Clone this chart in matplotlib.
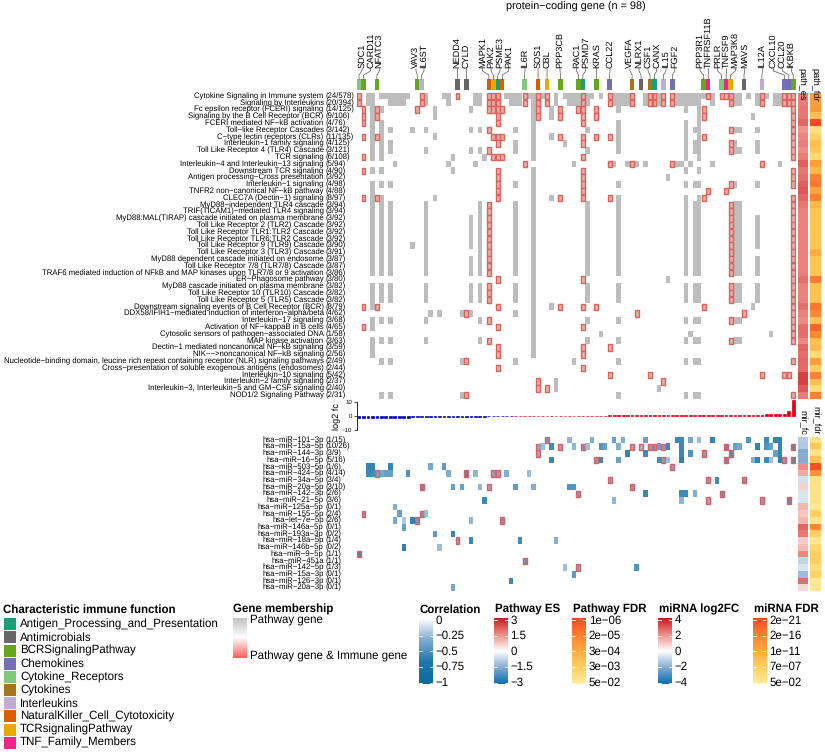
import numpy as np
import matplotlib
matplotlib.use("Agg")
import matplotlib.pyplot as plt
from matplotlib.colors import LinearSegmentedColormap, Normalize, to_rgb
from matplotlib.patches import Rectangle

plt.rcParams["font.family"] = ["Liberation Sans", "DejaVu Sans"]
plt.rcParams["text.hinting"] = "none"

W, H = 825, 754

# ---- pathway rows ----
pathway_names = [
    "Cytokine Signaling in Immune system", "Signaling by Interleukins",
    "Fc epsilon receptor (FCERI) signaling", "Signaling by the B Cell Receptor (BCR)",
    "FCERI mediated NF−kB activation", "Toll−like Receptor Cascades",
    "C−type lectin receptors (CLRs)", "Interleukin−1 family signaling",
    "Toll Like Receptor 4 (TLR4) Cascade", "TCR signaling",
    "Interleukin−4 and Interleukin−13 signaling", "Downstream TCR signaling",
    "Antigen processing−Cross presentation", "Interleukin−1 signaling",
    "TNFR2 non−canonical NF−kB pathway", "CLEC7A (Dectin−1) signaling",
    "MyD88−independent TLR4 cascade", "TRIF(TICAM1)−mediated TLR4 signaling",
    "MyD88:MAL(TIRAP) cascade initiated on plasma membrane", "Toll Like Receptor 2 (TLR2) Cascade",
    "Toll Like Receptor TLR1:TLR2 Cascade", "Toll Like Receptor TLR6:TLR2 Cascade",
    "Toll Like Receptor 9 (TLR9) Cascade", "Toll Like Receptor 3 (TLR3) Cascade",
    "MyD88 dependent cascade initiated on endosome", "Toll Like Receptor 7/8 (TLR7/8) Cascade",
    "TRAF6 mediated induction of NFkB and MAP kinases upon TLR7/8 or 9 activation", "ER−Phagosome pathway",
    "MyD88 cascade initiated on plasma membrane", "Toll Like Receptor 10 (TLR10) Cascade",
    "Toll Like Receptor 5 (TLR5) Cascade", "Downstream signaling events of B Cell Receptor (BCR)",
    "DDX58/IFIH1−mediated induction of interferon−alpha/beta", "Interleukin−17 signaling",
    "Activation of NF−kappaB in B cells", "Cytosolic sensors of pathogen−associated DNA",
    "MAP kinase activation", "Dectin−1 mediated noncanonical NF−kB signaling",
    "NIK−−>noncanonical NF−kB signaling",
    "Nucleotide−binding domain, leucine rich repeat containing receptor (NLR) signaling pathways",
    "Cross−presentation of soluble exogenous antigens (endosomes)", "Interleukin−10 signaling",
    "Interleukin−2 family signaling", "Interleukin−3, Interleukin−5 and GM−CSF signaling",
    "NOD1/2 Signaling Pathway",
]
pathway_counts = [
    "24/578", "20/394", "14/125", "9/106", "4/76", "3/142", "11/135", "4/125", "3/121",
    "6/108", "5/94", "4/90", "3/92", "4/98", "4/88", "8/97", "3/94", "3/94", "3/92", "3/92",
    "3/92", "3/92", "3/90", "3/91", "3/87", "3/87", "3/86", "3/80", "3/82", "3/82", "3/82",
    "8/79", "4/62", "3/68", "4/65", "1/58", "3/63", "3/59", "2/56", "2/49", "2/44", "5/42",
    "2/37", "2/40", "2/31",
]

# gene columns per pathway, gray = pathway gene only, red = also an immune gene
tlr_gray = "3 5 7 15 25 27 35 39 51 58 73 75-76 84-85 89"
pathway_gray = [
    "2-3 5-11 15 19-20 26-27 33-36 38-39 41 44 46-49 51-52 54 57-60 64 67 71-77 79 84-85 87 89 91 93-94",
    "2-3 7-10 15 20 26-27 34-36 39 44 47-49 51 57-60 64 67 71-76 79 84-85 89 93-94",
    "3 5 17 25 39 43 58 73 76",
    "3 17 39 43 76 88",
    "3 5 39 58 73 76",
    "3 5 7 12 15 25 27 35 39 51 58 73 75-76 84-85 89",
    "3 5 17 39 43 58 73 76",
    "3 5 7 35 39 46 58 73 75-76 84 89",
    "3 5 7 15 25 27 35 39 51 58 73 75-76 84-85 89",
    "3 5 21 28 39 73 76",
    "8 20 26 48 57 60 62 64 71-72 74 79 94",
    "3 5 21 39 73 76",
    "39 69",
    "3 5 7 35 39 58 73 75-76 84 89",
    "3 39",
    "3 5 17 39 43 58 73 76",
    "3 5 7 15 27 35 39 51 58 73 75-76 84-85",
    "3 5 7 15 27 35 39 51 58 73 75-76 84-85",
    tlr_gray, tlr_gray, tlr_gray, tlr_gray,
    tlr_gray + " 12",
    "3 5 7 15 27 35 39 51 58 73 75-76 84-85",
    tlr_gray, tlr_gray, tlr_gray,
    "39 69",
    tlr_gray, tlr_gray, tlr_gray,
    "3 39 43 88",
    "16 18 23 25 35 39",
    "3 5 7 15 27 39 51 58 73 75-76 84-85",
    "3 39",
    "39 54 74 92",
    "3 5 7 15 27 39 51 58 73 75-76 84-85",
    "3 39",
    "3 39",
    "5 7 23 35 48 58 73 75-76",
    "",
    "",
    "44",
    "44 67",
    "5 7 23 58 73 75-76",
]
tlr_red = "29 83 97"
pathway_red = [
    "0 14 22 29 30 31 37 40 42 50 56 61 65 66 68 70 78 81 82 83 90 95 96 97",
    "0 14 29 30 31 37 40 42 50 56 61 65 66 68 70 83 90 95 96 97",
    "1 4 13 29 30 31 32 40 45 49 50 53 77 97",
    "1 4 31 40 45 50 53 77 97",
    "1 31 50 97",
    tlr_red,
    "1 4 30 31 32 45 50 53 56 77 97",
    "31 50 83 97",
    tlr_red,
    "1 30 31 32 50 97",
    "37 56 61 70 90",
    "1 31 50 97",
    "31 50 97",
    "31 50 83 97",
    "31 50 78 82",
    "1 4 31 45 50 56 77 97",
    tlr_red, tlr_red, tlr_red, tlr_red, tlr_red, tlr_red, tlr_red, tlr_red,
    tlr_red, tlr_red, tlr_red,
    "31 50 97",
    tlr_red, tlr_red, tlr_red,
    "1 4 31 45 50 53 77 97",
    "24 62 86 97",
    tlr_red,
    "1 31 50 97",
    "97",
    tlr_red,
    "31 50 56",
    "31 50",
    "24 97",
    "31 50",
    "56 65 90 95 96",
    "40 68",
    "40 42",
    "24 97",
]
path_es = [1.7, 1.7, 1.8, 1.8, 2.0, 1.45, 1.6, 1.7, 1.5, 1.7, 2.1, 1.8, 1.9, 2.1, 2.2, 2.0,
           1.8, 1.65, 1.65, 1.65, 1.65, 1.65, 1.65, 1.65, 1.65, 1.65, 1.65, 1.9, 1.65, 1.65,
           1.65, 1.9, 1.65, 1.55, 1.9, 1.9, 1.6, 2.0, 1.9, 2.0, 1.95, 2.5, 2.5, 2.2, 1.75]
path_fdr_log = [4.0, 4.0, 4.2, 3.0, 6.0, 1.8, 2.3, 3.0, 2.7, 2.1, 4.0, 3.2, 4.8, 5.0, 3.8, 4.8,
                3.2, 2.8, 2.8, 2.8, 2.8, 2.8, 2.8, 3.6, 2.8, 2.8, 2.8, 4.9, 2.9, 2.9, 2.9, 5.0,
                4.6, 2.9, 5.4, 4.6, 2.9, 3.1, 2.0, 4.0, 2.6, 4.8, 3.0, 2.0, 4.8]

# ---- genes ----
gene_labels = ["SDC1", "CARD11", "NFATC3", "VAV3", "IL6ST", "NEDD4", "CYLD", "MAPK1", "PAK2", "PSME3",
               "PAK1", "IL6R", "SOS1", "CBL", "PPP3CB", "RAC1", "PSMD7", "KRAS", "CCL22", "VEGFA",
               "NLRX1", "CSF1", "CANX", "IL15", "FGF2", "PPP3R1", "TNFRSF11B", "PRLR", "TNFSF9",
               "MAP3K8", "MAVS", "IL12A", "CXCL10", "CCL20", "IKBKB"]
gene_cols = [0, 1, 4, 13, 14, 22, 24, 29, 30, 31, 32, 37, 40, 42, 45, 49, 50, 53, 56, 61, 63, 65, 66,
             68, 70, 77, 78, 81, 82, 83, 86, 90, 95, 96, 97]
gene_funcs = [4, 2, 2, 2, 6, 1, 1, 7, 8, 0, 7, 4, 7, 8, 2, 2, 0, 2, 3, 5, 1, 5, 0, 6, 3, 2, 9, 4, 9,
              8, 1, 6, 3, 3, 2]
gene_label_x = [66, 92, 118, 228, 252, 352, 379, 428, 453, 480, 506, 555, 594, 621, 660, 710, 737,
                770, 810, 870, 897, 924, 950, 978, 1004, 1080, 1106, 1133, 1160, 1186, 1214, 1267,
                1300, 1327, 1354]

func_names = ["Antigen_Processing_and_Presentation", "Antimicrobials", "BCRSignalingPathway", "Chemokines",
              "Cytokine_Receptors", "Cytokines", "Interleukins", "NaturalKiller_Cell_Cytotoxicity",
              "TCRsignalingPathway", "TNF_Family_Members"]
func_colors = ["#1B9E77", "#666666", "#66A61E", "#7570B3", "#7FC97F", "#A6761D", "#BEAED4", "#D95F02",
               "#E6AB02", "#E7298A"]

log2_fc = [-1.5, -1.5, -1.5, -1.4, -1.4, -1.4, -1.3, -1.3, -1.2, -1.2, -1.1, -1.1, -1.0, -1.0, -0.9,
           -0.9, -0.9, -0.8, -0.8, -0.7, -0.7, -0.7, -0.6, -0.6, -0.5, -0.5, -0.5, -0.4, -0.4, -0.3,
           -0.3, -0.3, -0.2, -0.2, -0.1, 0.1, 0.1, 0.1, 0.1, 0.2, 0.2, 0.2, 0.2, 0.2, 0.2, 0.2, 0.3,
           0.3, 0.3, 0.3, 0.3, 0.3, 0.3, 0.3, 0.3, 0.3, 0.4, 0.4, 0.4, 0.4, 0.4, 0.4, 0.4, 0.4, 0.4,
           0.4, 0.5, 0.5, 0.5, 0.5, 0.5, 0.5, 0.5, 0.5, 0.6, 0.6, 0.6, 0.6, 0.6, 0.6, 0.7, 0.7, 0.7,
           0.7, 0.8, 0.8, 0.8, 0.9, 0.9, 1.0, 1.0, 1.1, 1.1, 1.2, 1.4, 1.7, 3.6, 11.3]

# ---- miRNA rows ----
mirna_names = ["hsa−miR−101−3p", "hsa−miR−15a−5p", "hsa−miR−144−3p", "hsa−miR−16−5p", "hsa−miR−503−5p",
               "hsa−miR−424−5p", "hsa−miR−34a−5p", "hsa−miR−20a−5p", "hsa−miR−142−3p", "hsa−miR−21−5p",
               "hsa−miR−125a−5p", "hsa−miR−155−5p", "hsa−let−7e−5p", "hsa−miR−146a−5p", "hsa−miR−193a−3p",
               "hsa−miR−18a−5p", "hsa−miR−146b−5p", "hsa−miR−9−5p", "hsa−miR−451a", "hsa−miR−142−5p",
               "hsa−miR−15a−3p", "hsa−miR−126−3p", "hsa−miR−20a−3p"]
mirna_counts = ["1/15", "10/26", "3/9", "5/16", "1/6", "4/14", "3/4", "3/10", "2/6", "3/6", "0/1", "2/4",
                "2/6", "0/1", "0/2", "1/4", "0/2", "1/1", "1/1", "1/3", "0/1", "0/1", "0/1"]
# (gene column, correlation) per miRNA
mirna_hits = [
    [(42, -.5), (47, -.35), (52, -.4), (57, -.5), (59, -.4), (64, -.5), (71, -.7), (72, -.7), (74, -.45),
     (76, -.3), (79, -.9), (87, -.6), (91, -.7), (93, -.9), (94, -.9)],
    [(40, -.3), (41, -.3), (43, -.7), (45, -.3), (48, -.35), (50, -.5), (51, -.3), (54, -.6), (55, -.5),
     (58, -.4), (61, -.3), (63, -.2), (65, -.4), (66, -.4), (67, -.5), (68, -.4), (69, -.7), (72, -.8),
     (82, -.6), (84, -.5), (85, -.45), (89, -.9), (91, -.6), (92, -.5), (94, -.9), (97, -.8)],
    [(40, -.3), (60, -.9), (64, -.7), (72, -.8), (74, -.6), (77, -.4), (83, -.8), (93, -.5), (94, -.8)],
    [(43, -.8), (53, -.4), (54, -.7), (58, -.5), (67, -.7), (68, -.4), (69, -.3), (72, -.95), (82, -.6),
     (88, -.4), (89, -.9), (91, -.7), (92, -.3), (94, -1), (95, -.4), (97, -.9)],
    [(2, -.9), (3, -.9), (7, -.85), (16, -.45), (19, -.55), (70, -.4)],
    [(2, -.8), (3, -.7), (4, -.4), (5, -.45), (6, -.5), (7, -.5), (11, -.6), (20, -.4), (24, -.8), (26, -.35),
     (30, -.3), (31, -.3), (33, -.4), (38, -.3)],
    [(56, -.4), (78, -.4), (80, -.7), (86, -.5)],
    [(14, -.6), (21, -.5), (23, -.5), (27, -.35), (29, -.3), (35, -.55), (39, -.4), (47, -.6), (48, -.6), (61, -.45)],
    [(49, -.4), (64, -.8), (72, -.7), (73, -.7), (75, -.4), (81, -.55)],
    [(28, -.7), (57, -.35), (72, -.35), (78, -.3), (90, -.4), (96, -.6)],
    [(8, -.4)],
    [(1, -.5), (9, -.5), (14, -.5), (15, -.3)],
    [(8, -.45), (10, -.25), (12, -.9), (13, -.5), (25, -.35), (32, -.5)],
    [(10, -.5)],
    [(17, -.55), (21, -.85)],
    [(22, -.4), (25, -.8), (36, -.7), (44, -.4)],
    [(10, -.95), (18, -.3)],
    [(0, -.9)],
    [(37, -.6)],
    [(46, -.3), (49, -.4), (62, -.6)],
    [(48, -.55)],
    [(34, -.7)],
    [(21, -.45)],
]
mirna_red = [[42], [40, 45, 50, 61, 63, 65, 66, 68, 82, 97], [40, 77, 83], [53, 68, 82, 95, 97], [70],
             [4, 24, 30, 31], [56, 78, 86], [14, 29, 61], [49, 81], [78, 90, 96], [], [1, 14], [13, 32], [],
             [], [22], [], [0], [37], [49], [], [], []]
mir_fc = [-1.2, -1.3, -2.0, -2.0, 2.0, 1.5, -0.7, 0.8, -0.6, -0.6, 1.3, 1.0, 1.3, 2.7, 2.4, 0.9, 1.2, 2.1,
          -1.0, -0.6, -1.6, 2.6, 0.7]
mir_fdr_log = [3, 7, 3, 8, 20, 14, 3, 3, 3, 3, 2, 6, 2.5, 15, 6, 2.5, 5, 6, 6, 4, 5.5, 2, 2.5]

# ---- legends ----
corr_ticks = ["0", "−0.25", "−0.5", "−0.75", "−1"]
es_ticks = ["3", "1.5", "0", "−1.5", "−3"]
path_fdr_ticks = ["1e−06", "2e−05", "3e−04", "3e−03", "5e−02"]
mir_fc_ticks = ["4", "2", "0", "−2", "−4"]
mir_fdr_ticks = ["2e−21", "2e−16", "1e−11", "7e−07", "5e−02"]

LABEL_SIZE = 5.6
GENE_SIZE = 6.6
LEGEND_SIZE = 8.3

# colour maps
cm_corr = LinearSegmentedColormap.from_list("corr", ["#ffffff", "#7fabd0", "#1f78ad", "#0b6a9c"])
cm_div = LinearSegmentedColormap.from_list("div", ["#0a6fb0", "#86acd2", "#ffffff", "#ee8f86", "#cb1a20"])
cm_fdr = LinearSegmentedColormap.from_list("fdr", ["#ffeda0", "#fed060", "#feab40", "#fd8030", "#f24a22"])
cm_member = LinearSegmentedColormap.from_list("member", ["#bebebe", "#ffffff", "#f8605c"])


def parse_cols(text):
    cols = []
    for part in text.split():
        if "-" in part:
            a, b = part.split("-")
            cols.extend(range(int(a), int(b) + 1))
        else:
            cols.append(int(part))
    return cols


def ax_px(x0, y0, x1, y1):
    return fig.add_axes([x0 / W, 1 - y1 / H, (x1 - x0) / W, (y1 - y0) / H])


def side_column(x0, x1, y0, y1, values, cmap, vmin, vmax):
    ax = ax_px(x0, y0, x1, y1)
    ax.imshow(np.array(values)[:, None], cmap=cmap, vmin=vmin, vmax=vmax, aspect="auto", interpolation="nearest")
    ax.axis("off")


def colorbar(x0, title, ticks, cmap):
    ov.text(x0 + 1, 609.3, title, fontsize=LEGEND_SIZE, fontweight="bold", va="center", ha="left")
    ax = ax_px(x0, 618.3, x0 + 13.7, 684.3)
    ax.imshow(np.linspace(1, 0, 200)[:, None], cmap=cmap, vmin=0, vmax=1, aspect="auto", extent=(0, 1, 684.3, 618.3))
    ax.set_xlim(0, 1)
    ax.set_ylim(684.3, 618.3)
    ax.axis("off")
    for i, lab in enumerate(ticks):
        y = 620 + i * 15.65
        ax.plot([0, 0.22], [y, y], color="white", lw=0.6)
        ax.plot([0.78, 1], [y, y], color="white", lw=0.6)
        ov.text(x0 + 16.5, y + 0.3, lab, fontsize=LEGEND_SIZE, va="center", ha="left")


fig = plt.figure(figsize=(W / 100, H / 100), dpi=100)

# whole figure overlay in pixel coordinates, used for text
ov = fig.add_axes([0, 0, 1, 1], zorder=5)
ov.set_xlim(0, W)
ov.set_ylim(H, 0)
ov.axis("off")

HEAT_X0, HEAT_X1 = 356.76, 795.5
ROW_Y0, ROW_Y1 = 92.6, 398.6
MIR_Y0, MIR_Y1 = 436.6, 591.0
ROW_H = (ROW_Y1 - ROW_Y0) / len(pathway_names)
MIR_H = (MIR_Y1 - MIR_Y0) / len(mirna_names)

ov.text(576, 6.7, "protein−coding gene (n = 98)", fontsize=7.8, ha="center", va="center")

# pathway matrix
ax = ax_px(HEAT_X0, ROW_Y0, HEAT_X1, ROW_Y1)
ax.set_xlim(-0.5, 97.5)
ax.set_ylim(len(pathway_names) - 0.5, -0.5)
ax.axis("off")
for r, gray in enumerate(pathway_gray):
    for c in parse_cols(gray):
        ax.add_patch(Rectangle((c - 0.5, r - 0.5), 1, 1, fc="#bdbdbd", ec="none"))
for r, red in enumerate(pathway_red):
    for c in parse_cols(red):
        ax.add_patch(Rectangle((c - 0.44, r - 0.47), 0.88, 0.94, fc="#e6aea6", ec="#dc625c", lw=1.0))

for r, (name, count) in enumerate(zip(pathway_names, pathway_counts)):
    y = ROW_Y0 + (r + 0.5) * ROW_H
    ov.text(323.6, y, name, fontsize=LABEL_SIZE, ha="right", va="center")
    ov.text(326, y, f"({count})", fontsize=LABEL_SIZE, ha="left", va="center")

# gene annotation strip with leader lines
top = ax_px(HEAT_X0, 68, HEAT_X1, 90.3)
top.set_xlim(-0.5, 97.5)
top.set_ylim(90.3, 68)
top.axis("off")
for gene, col, func, lx in zip(gene_labels, gene_cols, gene_funcs, gene_label_x):
    top.add_patch(Rectangle((col - 0.5, 79.3), 1, 11, fc=func_colors[func], ec="none"))
    px = 340 + lx / 3
    label_col = (px - 359) / 4.477
    top.plot([label_col, label_col, col, col], [68.6, 71, 75, 79.3], color="#444444", lw=0.45, clip_on=False)
    ov.text(px, 67.5, gene, rotation=90, fontsize=GENE_SIZE, ha="center", va="bottom")

for lab, x in [("path_es", 802), ("path_fdr", 815)]:
    ov.text(x, 67.5, lab, rotation=-90, fontsize=GENE_SIZE, ha="left", va="center", rotation_mode="anchor")

side_column(798.3, 808.3, ROW_Y0, ROW_Y1, path_es, cm_div, -3, 3)
side_column(810, 820.3, ROW_Y0, ROW_Y1, path_fdr_log, cm_fdr, 1.3, 6)

# log2 fc bars
bar = ax_px(HEAT_X0, 399, HEAT_X1, 432)
bar_colors = ["#0000c8" if v < 0 else "#e00010" for v in log2_fc]
bar.bar(range(98), log2_fc, width=0.62, color=bar_colors, edgecolor=bar_colors, linewidth=0.5)
bar.set_xlim(-0.5, 97.5)
bar.set_ylim(-11.27, 11.97)
bar.set_xticks([])
bar.set_yticks([-10, 0, 10], ["−10", "0", "10"], fontsize=4.4)
bar.tick_params(axis="y", length=2, width=0.5, pad=1)
for s in ["top", "right", "bottom"]:
    bar.spines[s].set_visible(False)
bar.spines["left"].set_bounds(-10, 10)
bar.spines["left"].set_linewidth(0.6)
bar.patch.set_alpha(0)
ov.text(337, 416.5, "log2 fc", rotation=90, fontsize=GENE_SIZE, ha="center", va="center")

# miRNA matrix
mir = ax_px(HEAT_X0, MIR_Y0, HEAT_X1, MIR_Y1)
mir.set_xlim(-0.5, 97.5)
mir.set_ylim(len(mirna_names) - 0.5, -0.5)
mir.axis("off")
corr_norm = Normalize(-1, 0)
mauve = np.array(to_rgb("#c09090"))
for m, hits in enumerate(mirna_hits):
    for c, corr in hits:
        color = np.array(cm_corr(1 - corr_norm(corr))[:3])
        if c in mirna_red[m]:
            mixed = 0.5 * color + 0.5 * mauve
            mir.add_patch(Rectangle((c - 0.44, m - 0.47), 0.88, 0.94, fc=mixed, ec="#d9606a", lw=1.0))
        else:
            mir.add_patch(Rectangle((c - 0.5, m - 0.5), 1, 1, fc=color, ec="none", alpha=0.85))

for m, (name, count) in enumerate(zip(mirna_names, mirna_counts)):
    y = MIR_Y0 + (m + 0.5) * MIR_H
    ov.text(323.6, y, name, fontsize=LABEL_SIZE, ha="right", va="center")
    ov.text(326, y, f"({count})", fontsize=LABEL_SIZE, ha="left", va="center")

side_column(798.3, 808.3, MIR_Y0, MIR_Y1, mir_fc, cm_div, -4, 4)
side_column(810, 820.3, MIR_Y0, MIR_Y1, mir_fdr_log, cm_fdr, 1.3, 20.7)
for lab, x in [("mir_fc", 802), ("mir_fdr", 815)]:
    ov.text(x, 434.5, lab, rotation=-90, fontsize=GENE_SIZE, ha="right", va="center", rotation_mode="anchor")

# function legend
ov.text(3.3, 609.3, "Characteristic immune function", fontsize=LEGEND_SIZE, fontweight="bold", va="center")
for i, (name, color) in enumerate(zip(func_names, func_colors)):
    y = 618.3 + i * 13.17
    ov.add_patch(Rectangle((4, y), 12, 12, fc=color, ec="none"))
    ov.text(20, y + 6, name, fontsize=LEGEND_SIZE, va="center")

# membership legend
ov.text(233, 609.3, "Gene membership", fontsize=LEGEND_SIZE, fontweight="bold", va="center")
member = ax_px(232.5, 618, 246.5, 658.5)
member.imshow(np.linspace(0, 1, 100)[:, None], cmap=cm_member, aspect="auto")
member.axis("off")
ov.text(249.5, 620.3, "Pathway gene", fontsize=LEGEND_SIZE, va="center")
ov.text(249.5, 656.3, "Pathway gene & Immune gene", fontsize=LEGEND_SIZE, va="center")

colorbar(419, "Correlation", corr_ticks, LinearSegmentedColormap.from_list("c", cm_corr(np.linspace(1, 0, 50))))
colorbar(494, "Pathway ES", es_ticks, cm_div)
colorbar(572.3, "Pathway FDR", path_fdr_ticks, cm_fdr)
colorbar(658, "miRNA log2FC", mir_fc_ticks, cm_div)
colorbar(752.7, "miRNA FDR", mir_fdr_ticks, cm_fdr)

fig.savefig("out.png", dpi=100)
plt.close(fig)
